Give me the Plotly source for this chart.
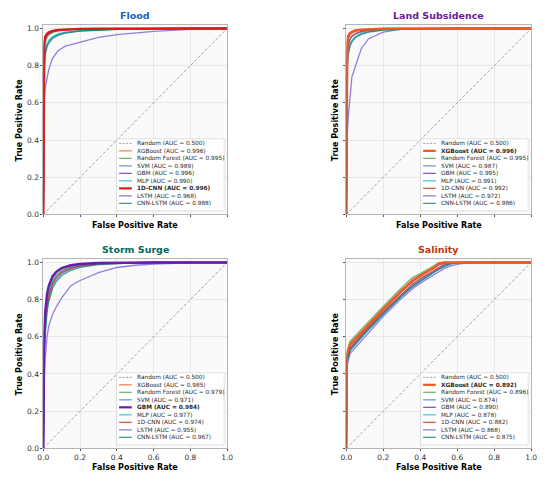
import plotly.graph_objects as go

# the page puts the figure 8px in from the top-left corner, so the figure is
# made 16px smaller and every pixel constant below is in window coordinates
OFF = 8
W, H = 550 - 2 * OFF, 484 - 2 * OFF

models = ["XGBoost", "Random Forest", "SVM", "GBM", "MLP", "1D-CNN", "LSTM", "CNN-LSTM"]
colors = ["#F05A1E", "#43A047", "#3A7FD5", "#6A1BB0", "#1CB5B5", "#D81B1B", "#6C55D8", "#0E7C6B"]

random_fpr = [0, 1]
random_tpr = [0, 1]

# ---- Flood ----
flood_fpr = [0, 0.001, 0.005, 0.01, 0.02, 0.03, 0.05, 0.08, 0.12, 0.2, 0.3, 0.4, 0.6, 0.8, 1.0]
flood_xgboost = [0, 0.70, 0.90, 0.945, 0.965, 0.974, 0.984, 0.990, 0.994, 0.997, 0.998, 0.999, 1, 1, 1]
flood_rf = [0, 0.65, 0.87, 0.925, 0.952, 0.965, 0.978, 0.987, 0.993, 0.996, 0.998, 0.999, 1, 1, 1]
flood_svm = [0, 0.55, 0.80, 0.87, 0.91, 0.93, 0.952, 0.968, 0.978, 0.988, 0.993, 0.996, 0.999, 1, 1]
flood_gbm = [0, 0.70, 0.90, 0.942, 0.963, 0.973, 0.983, 0.990, 0.994, 0.997, 0.998, 0.999, 1, 1, 1]
flood_mlp = [0, 0.58, 0.82, 0.88, 0.918, 0.937, 0.957, 0.971, 0.981, 0.989, 0.994, 0.997, 0.999, 1, 1]
flood_cnn = [0, 0.72, 0.92, 0.955, 0.972, 0.979, 0.987, 0.992, 0.995, 0.998, 0.999, 1, 1, 1, 1]
flood_lstm = [0, 0.45, 0.62, 0.68, 0.74, 0.78, 0.84, 0.88, 0.905, 0.925, 0.952, 0.967, 0.985, 0.995, 1]
flood_cnnlstm = [0, 0.52, 0.78, 0.855, 0.90, 0.922, 0.946, 0.963, 0.975, 0.986, 0.992, 0.996, 0.999, 1, 1]
flood_auc = [0.996, 0.995, 0.989, 0.996, 0.990, 0.996, 0.968, 0.988]

# ---- Land Subsidence ----
land_fpr = [0, 0.001, 0.005, 0.01, 0.02, 0.03, 0.05, 0.08, 0.12, 0.2, 0.3, 0.4, 0.6, 0.8, 1.0]
land_xgboost = [0, 0.75, 0.93, 0.96, 0.975, 0.982, 0.990, 0.994, 0.997, 0.999, 1, 1, 1, 1, 1]
land_rf = [0, 0.72, 0.91, 0.95, 0.97, 0.979, 0.988, 0.993, 0.996, 0.998, 0.999, 1, 1, 1, 1]
land_svm = [0, 0.55, 0.80, 0.87, 0.915, 0.935, 0.957, 0.972, 0.983, 0.993, 0.997, 0.999, 1, 1, 1]
land_gbm = [0, 0.70, 0.90, 0.945, 0.967, 0.977, 0.986, 0.992, 0.995, 0.998, 0.999, 1, 1, 1, 1]
land_mlp = [0, 0.62, 0.85, 0.905, 0.94, 0.955, 0.970, 0.981, 0.989, 0.995, 0.998, 0.999, 1, 1, 1]
land_cnn = [0, 0.64, 0.86, 0.91, 0.945, 0.96, 0.974, 0.984, 0.991, 0.996, 0.998, 0.999, 1, 1, 1]
land_lstm = [0, 0.25, 0.42, 0.52, 0.63, 0.74, 0.80, 0.89, 0.945, 0.98, 0.997, 0.999, 1, 1, 1]
land_cnnlstm = [0, 0.55, 0.79, 0.86, 0.905, 0.928, 0.952, 0.968, 0.98, 0.991, 0.996, 0.999, 1, 1, 1]
land_auc = [0.996, 0.995, 0.987, 0.995, 0.991, 0.992, 0.972, 0.986]

# ---- Storm Surge ----
storm_fpr = [0, 0.002, 0.005, 0.01, 0.02, 0.03, 0.05, 0.07, 0.1, 0.15, 0.2, 0.3, 0.4, 0.5, 0.6, 0.8, 1.0]
storm_xgboost = [0, 0.44, 0.61, 0.72, 0.825, 0.87, 0.92, 0.947, 0.968, 0.984, 0.991, 0.997, 0.999, 1, 1, 1, 1]
storm_rf = [0, 0.40, 0.57, 0.68, 0.79, 0.845, 0.905, 0.935, 0.958, 0.977, 0.987, 0.995, 0.998, 0.999, 1, 1, 1]
storm_svm = [0, 0.36, 0.52, 0.63, 0.75, 0.81, 0.875, 0.91, 0.94, 0.965, 0.979, 0.991, 0.996, 0.999, 1, 1, 1]
storm_gbm = [0, 0.45, 0.62, 0.73, 0.83, 0.875, 0.925, 0.95, 0.97, 0.985, 0.992, 0.997, 0.999, 1, 1, 1, 1]
storm_mlp = [0, 0.39, 0.56, 0.67, 0.78, 0.835, 0.897, 0.928, 0.953, 0.974, 0.985, 0.994, 0.998, 0.999, 1, 1, 1]
storm_cnn = [0, 0.38, 0.54, 0.65, 0.765, 0.822, 0.886, 0.92, 0.947, 0.97, 0.982, 0.993, 0.997, 0.999, 1, 1, 1]
storm_lstm = [0, 0.25, 0.38, 0.48, 0.60, 0.66, 0.72, 0.76, 0.81, 0.875, 0.903, 0.945, 0.973, 0.985, 0.991, 0.998, 1]
storm_cnnlstm = [0, 0.34, 0.50, 0.61, 0.73, 0.79, 0.86, 0.897, 0.93, 0.958, 0.974, 0.988, 0.995, 0.998, 1, 1, 1]
storm_auc = [0.985, 0.979, 0.971, 0.984, 0.977, 0.974, 0.955, 0.967]

# ---- Salinity ----
salt_fpr = [0, 0.003, 0.02, 0.1, 0.2, 0.3, 0.36, 0.4, 0.45, 0.48, 0.5, 0.53, 0.56, 0.6, 0.65, 0.7, 1.0]
salt_xgboost = [0, 0.50, 0.56, 0.645, 0.75, 0.85, 0.905, 0.93, 0.96, 0.975, 0.995, 1, 1, 1, 1, 1, 1]
salt_rf = [0, 0.52, 0.575, 0.66, 0.765, 0.865, 0.92, 0.94, 0.968, 0.985, 0.998, 1, 1, 1, 1, 1, 1]
salt_svm = [0, 0.46, 0.525, 0.615, 0.72, 0.818, 0.87, 0.898, 0.93, 0.95, 0.962, 0.978, 0.99, 0.998, 1, 1, 1]
salt_gbm = [0, 0.49, 0.553, 0.64, 0.745, 0.843, 0.898, 0.925, 0.953, 0.97, 0.985, 0.997, 1, 1, 1, 1, 1]
salt_mlp = [0, 0.47, 0.535, 0.625, 0.73, 0.826, 0.878, 0.906, 0.938, 0.957, 0.97, 0.985, 0.995, 1, 1, 1, 1]
salt_cnn = [0, 0.48, 0.54, 0.63, 0.735, 0.832, 0.885, 0.913, 0.943, 0.962, 0.975, 0.99, 0.998, 1, 1, 1, 1]
salt_lstm = [0, 0.44, 0.51, 0.60, 0.71, 0.808, 0.86, 0.888, 0.92, 0.94, 0.952, 0.968, 0.98, 0.99, 0.998, 1, 1]
salt_cnnlstm = [0, 0.47, 0.53, 0.62, 0.725, 0.822, 0.873, 0.902, 0.933, 0.952, 0.965, 0.982, 0.993, 0.999, 1, 1, 1]
salt_auc = [0.892, 0.896, 0.874, 0.890, 0.878, 0.882, 0.868, 0.875]

panels = [
    dict(title="Flood", color="#1565C0", fpr=flood_fpr, auc=flood_auc, best="1D-CNN",
         tpr=[flood_xgboost, flood_rf, flood_svm, flood_gbm, flood_mlp, flood_cnn, flood_lstm, flood_cnnlstm]),
    dict(title="Land Subsidence", color="#6A1B9A", fpr=land_fpr, auc=land_auc, best="XGBoost",
         tpr=[land_xgboost, land_rf, land_svm, land_gbm, land_mlp, land_cnn, land_lstm, land_cnnlstm]),
    dict(title="Storm Surge", color="#00695C", fpr=storm_fpr, auc=storm_auc, best="GBM",
         tpr=[storm_xgboost, storm_rf, storm_svm, storm_gbm, storm_mlp, storm_cnn, storm_lstm, storm_cnnlstm]),
    dict(title="Salinity", color="#BF360C", fpr=salt_fpr, auc=salt_auc, best="XGBoost",
         tpr=[salt_xgboost, salt_rf, salt_svm, salt_gbm, salt_mlp, salt_cnn, salt_lstm, salt_cnnlstm]),
]

# plot boxes in window pixels: left, right, top, bottom
boxes = [(38, 226, 24, 216), (348, 537, 24, 216), (38, 226, 261, 453), (348, 537, 261, 453)]

FONT = "DejaVu Sans"


def px(x):
    return (x - OFF) / W


def py(y):
    return 1 - (y - OFF) / H


fig = go.Figure()
shapes = []
annotations = []
layout = {}

for i, (p, (L, R, T, B)) in enumerate(zip(panels, boxes)):
    n = "" if i == 0 else str(i + 1)
    xa, ya = "x" + n, "y" + n
    bottom_row = i >= 2
    left_col = i % 2 == 0

    fig.add_trace(go.Scatter(x=random_fpr, y=random_tpr, mode="lines", xaxis=xa, yaxis=ya,
                             line=dict(color="#8c8c8c", width=0.8, dash="3px,2px"),
                             showlegend=False, hoverinfo="skip"))
    order = [k for k in range(len(models)) if models[k] != p["best"]]
    order.append(models.index(p["best"]))
    for k in order:
        best = models[k] == p["best"]
        fig.add_trace(go.Scatter(
            x=p["fpr"], y=p["tpr"][k], mode="lines", xaxis=xa, yaxis=ya,
            line=dict(color=colors[k], width=2.4 if best else 1.3),
            opacity=1.0 if best else 0.75,
            name=models[k], showlegend=False))

    axis_common = dict(showline=True, mirror=True, linecolor="#b5b5b5", linewidth=0.8,
                       showgrid=True, gridcolor="#e8e8e8", gridwidth=0.6, zeroline=False,
                       ticks="outside", ticklen=2, tickwidth=0.6, tickcolor="#555555",
                       tickfont=dict(family=FONT, size=7.5, color="#333333"),
                       tickvals=[0, 0.2, 0.4, 0.6, 0.8, 1.0], tickformat=".1f")
    layout["xaxis" + n] = dict(axis_common, domain=[px(L), px(R)], range=[0, 1], anchor=ya,
                               showticklabels=bottom_row)
    layout["yaxis" + n] = dict(axis_common, domain=[py(B), py(T)], range=[0, 1.02], anchor=xa,
                               showticklabels=left_col)

    cx = (L + R) / 2
    annotations.append(dict(x=px(cx), y=py(T - 9), xref="paper", yref="paper", showarrow=False,
                            text="<b>%s</b>" % p["title"], xanchor="center", yanchor="middle",
                            font=dict(family=FONT, size=9.5, color=p["color"])))
    annotations.append(dict(x=px(cx), y=py(B + (19 if bottom_row else 11)), xref="paper", yref="paper",
                            showarrow=False, text="<b>False Positive Rate</b>",
                            xanchor="center", yanchor="middle",
                            font=dict(family=FONT, size=8, color="black")))
    annotations.append(dict(x=px(L - (24 if left_col else 11)), y=py((T + B) / 2), xref="paper", yref="paper",
                            showarrow=False, text="<b>True Positive Rate</b>", textangle=-90,
                            xanchor="center", yanchor="middle",
                            font=dict(family=FONT, size=8, color="black")))

    # legend box drawn in the lower-right corner of each panel
    bw, bh = 110, 73
    br, bb = R - 3, B - 3.5
    bl, bt = br - bw, bb - bh
    shapes.append(dict(type="rect", xref="paper", yref="paper", layer="above",
                       x0=px(bl), x1=px(br), y0=py(bb), y1=py(bt),
                       line=dict(color="#cfcfcf", width=0.6), fillcolor="rgba(255,255,255,0.92)"))
    entries = [("Random (AUC = 0.500)", "#8c8c8c", 0.9, "2px,1.5px", False)]
    for k in range(len(models)):
        best = models[k] == p["best"]
        entries.append(("%s (AUC = %.3f)" % (models[k], p["auc"][k]), colors[k],
                        2.2 if best else 1.3, "solid", best))
    for j, (label, c, w, dash, best) in enumerate(entries):
        ey = bt + 4.6 + j * 7.6
        shapes.append(dict(type="line", xref="paper", yref="paper", layer="above",
                           x0=px(bl + 2.5), x1=px(bl + 15.5), y0=py(ey), y1=py(ey),
                           opacity=1.0 if (best or j == 0) else 0.75,
                           line=dict(color=c, width=w, dash=dash)))
        annotations.append(dict(x=px(bl + 19), y=py(ey), xref="paper", yref="paper", showarrow=False,
                                text="<b>%s</b>" % label if best else label,
                                xanchor="left", yanchor="middle",
                                font=dict(family=FONT, size=5.8, color="#2a2a2a")))

fig.update_layout(
    width=W, height=H,
    margin=dict(l=0, r=0, t=0, b=0),
    paper_bgcolor="white",
    plot_bgcolor="#fafafa",
    font=dict(family=FONT),
    showlegend=False,
    shapes=shapes,
    annotations=annotations,
    **layout
)

fig.write_html("out.html")
